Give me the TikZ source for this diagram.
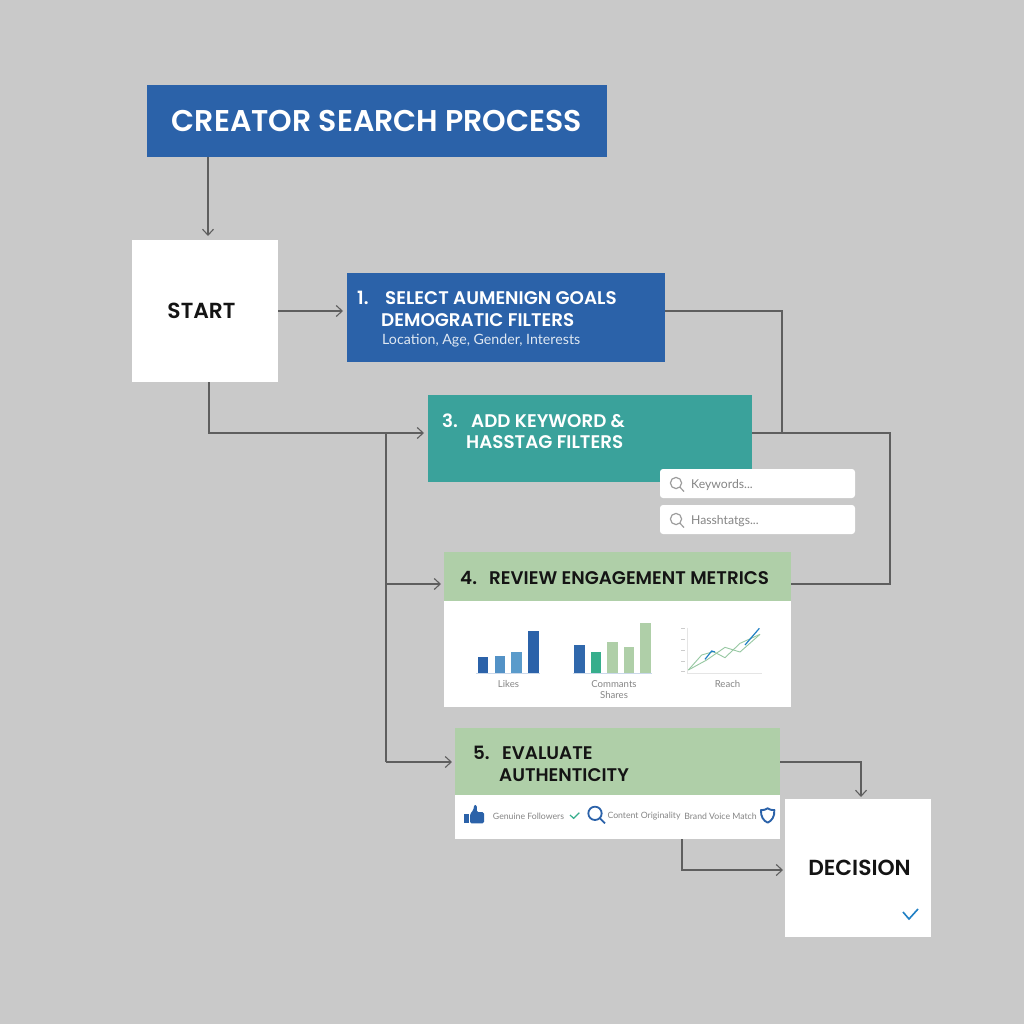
\documentclass[tikz,border=0pt]{standalone}
\usepackage{fontspec}
\setmainfont{Poppins}
\newfontfamily\headfont{Poppins}[UprightFont=* SemiBold]
\newfontfamily\lightfont{Lato}
\usetikzlibrary{arrows.meta}
\definecolor{bgGray}{HTML}{C9C9C9}
\definecolor{stepBlue}{HTML}{2B62A9}
\definecolor{stepTeal}{HTML}{3AA29B}
\definecolor{stepGreen}{HTML}{AFCFA8}
\definecolor{wireGray}{HTML}{5E5E5E}
\definecolor{inkDark}{HTML}{141414}
\definecolor{labelGray}{HTML}{858585}
\definecolor{barMid}{HTML}{5A9BCB}
\definecolor{barJade}{HTML}{36AE8C}
\definecolor{trendBlue}{HTML}{1F7FC4}
\tikzset{
  wire/.style={draw=wireGray, line width=1.1pt},
  flow/.style={wire, -{Straight Barb[length=6pt,width=11pt]}},
  panel/.style={inner sep=0pt, outer sep=0pt, minimum width=#1},
  head/.style={font=\headfont\fontsize{18.3}{22}\selectfont, anchor=west, inner sep=0pt},
  small/.style={font=\lightfont\fontsize{9.6}{11}\selectfont, text=labelGray, inner sep=0pt},
  tiny/.style={font=\lightfont\fontsize{8.7}{10}\selectfont, text=labelGray, inner sep=0pt},
  field/.style={anchor=west, inner sep=0pt, text=labelGray, font=\lightfont\fontsize{12.2}{14}\selectfont},
  search/.style={draw=labelGray!80, line width=1.2pt},
}
\begin{document}
\begin{tikzpicture}[x=1pt,y=-1pt]
\useasboundingbox[fill=bgGray] (0,0) rectangle (1024,1024);
% Title and start
\node[panel=460pt, minimum height=72pt, fill=stepBlue, text=white, font=\headfont\fontsize{30}{34}\selectfont] (title) at (377,121) {CREATOR SEARCH PROCESS};
\node[panel=146pt, minimum height=142pt, fill=white, text=inkDark, font=\headfont\fontsize{21.8}{25}\selectfont] (start) at (205,311) {\hspace*{-7pt}\raisebox{-1pt}{START}};
% Step panels
\node[panel=318pt, minimum height=89pt, fill=stepBlue] (select) at (506,317.5) {};
\node[panel=324pt, minimum height=87pt, fill=stepTeal] (keyword) at (590,438.5) {};
\node[panel=347pt, minimum height=49pt, fill=stepGreen] (review) at (617.5,576.5) {};
\node[panel=347pt, minimum height=106pt, fill=white, anchor=north] (reviewbody) at (review.south) {};
\node[panel=325pt, minimum height=67pt, fill=stepGreen] (evaluate) at (617.5,761.5) {};
\node[panel=325pt, minimum height=44pt, fill=white, anchor=north] (evaluatebody) at (evaluate.south) {};
\node[panel=146pt, minimum height=138pt, fill=white, text=inkDark, font=\headfont\fontsize{21.8}{25}\selectfont] (decision) at (858,868) {\hspace*{3pt}\raisebox{-1pt}{DECISION}};
% Search fields
\node[panel=195pt, minimum height=29pt, fill=white, rounded corners=3pt] (keyfield) at (757.5,483.5) {};
\node[panel=195pt, minimum height=29pt, fill=white, rounded corners=3pt] (hashfield) at (757.5,519.5) {};
% Step texts
\node[head, text=white] (selectnum) at (357,298) {1.};
\node[head, text=white] (selectone) at (385,298) {SELECT AUMENIGN GOALS};
\node[head, text=white] (selecttwo) at (381,320) {DEMOGRATIC FILTERS};
\node[anchor=west, inner sep=0pt, text=white!85!stepBlue, font=\lightfont\fontsize{14.2}{16}\selectfont] (selectsub) at (382,341) {Location, Age, Gender, Interests};
\node[head, text=white] (keywordnum) at (442,421) {3.};
\node[head, text=white] (keywordone) at (471,421) {ADD KEYWORD \&};
\node[head, text=white] (keywordtwo) at (466,442) {HASSTAG FILTERS};
\node[head, text=inkDark] (reviewnum) at (460,578) {4.};
\node[head, text=inkDark] (reviewone) at (489,578) {REVIEW ENGAGEMENT METRICS};
\node[head, text=inkDark] (evaluatenum) at (473,753) {5.};
\node[head, text=inkDark] (evaluateone) at (502,753) {EVALUATE};
\node[head, text=inkDark] (evaluatetwo) at (499,775) {AUTHENTICITY};
% Field texts
\node[field] (keytext) at (691,485) {Keywords...};
\node[field] (hashtext) at (691,521) {Hasshtatgs...};
\draw[search] (676,483) circle (5.6pt) (680,487.3) -- (684,491.5);
\draw[search] (676,519) circle (5.6pt) (680,523.3) -- (684,527.5);
% Chart labels
\node[small] (likes) at (508.5,684) {Likes};
\node[small] (comments) at (614,684) {Commants};
\node[small] (shares) at (614,695) {Shares};
\node[small] (reach) at (727.5,684) {Reach};
% Bar charts
\begin{scope}[shift={(440,590)},scale=1/3]
  \fill[stepBlue] (113,249) rectangle (145,200);
  \fill[barMid!85!stepBlue] (164,249) rectangle (195,198);
  \fill[barMid] (214,249) rectangle (246,185);
  \fill[stepBlue] (265,249) rectangle (297,123);
  \fill[stepBlue!90!barMid] (403,249) rectangle (434,164);
  \fill[barJade] (452,249) rectangle (483,187);
  \fill[stepGreen] (502,249) rectangle (533,157);
  \fill[stepGreen] (552,249) rectangle (583,170);
  \fill[stepGreen] (601,249) rectangle (633,99);
  \draw[stepBlue!25, line width=.5pt] (108,250) -- (300,250) (398,250) -- (636,250);
  % Line chart
  \draw[black!10, line width=.6pt] (742,113) -- (742,250) -- (965,250);
  \foreach \tick in {115,147,180,213,245} \draw[black!20, line width=.5pt] (724,\tick) -- (736,\tick);
  \draw[stepGreen!80!barJade, line width=.9pt] (745,240) -- (785,195) -- (820,185) -- (855,203) -- (900,160) -- (960,133);
  \draw[stepGreen!80!barJade, line width=.9pt] (745,240) -- (800,210) -- (855,172) -- (900,186) -- (960,133);
  \draw[trendBlue, line width=1.2pt] (795,208) -- (815,183) -- (825,186);
  \draw[trendBlue, line width=1.2pt] (915,165) -- (958,115);
\end{scope}
% Authenticity strip
\node[tiny] (genuine) at (528.5,816) {Genuine Followers};
\node[tiny] (original) at (644,816) {Content Originality};
\node[tiny] (voice) at (720.5,816) {Brand Voice Match};
\begin{scope}[shift={(450,790)},scale=1/3]
  \fill[stepBlue] (42,72) rectangle (57,100);
  \fill[stepBlue, rounded corners=1.5pt] (60,72) -- (70,60) -- (73,43) -- (81,46) -- (80,66) -- (102,66) -- (102,100) -- (60,100) -- cycle;
  \draw[barJade, line width=1.2pt] (360,75) -- (371,85) -- (388,68);
  \draw[stepBlue, line width=1.8pt] (435,70) circle (20) (450,85) -- (465,100);
  \draw[stepBlue, line width=1.9pt, line join=round] (953,55) .. controls (943,61) and (938,60) .. (933,60) .. controls (932,80) and (940,92) .. (953,98) .. controls (966,92) and (974,80) .. (973,60) .. controls (968,60) and (963,61) .. (953,55) -- cycle;
\end{scope}
\draw[draw=trendBlue, line width=1.6pt] (903,912) -- (909,919) -- (918,909);
% Connectors
\coordinate (startdrop) at (209,433);
\coordinate (trunktop) at (386,433);
\coordinate (trunkreview) at (386,584);
\coordinate (trunkend) at (386,762);
\coordinate (selectturn) at (782,311);
\coordinate (selectjoin) at (782,433);
\coordinate (keyturn) at (890,433);
\coordinate (reviewturn) at (890,584);
\coordinate (evalturn) at (861,762);
\coordinate (evalbase) at (682,839);
\coordinate (evalelbow) at (682,870);
\draw[flow, shorten >=4pt] (title.south -| 208,157) -- (208,240);
\draw[flow, shorten >=4pt] (start.east |- 0,311) -- (select.west |- 0,311);
\draw[flow, shorten >=4pt] (start.south -| startdrop) -- (startdrop) -- (keyword.west |- startdrop);
\draw[wire] (trunktop) -- (trunkend);
\draw[flow, shorten >=3pt] (trunkreview) -- (review.west |- trunkreview);
\draw[flow, shorten >=3pt] (trunkend) -- (evaluate.west |- trunkend);
\draw[wire] (select.east |- selectturn) -- (selectturn) -- (selectjoin);
\draw[wire] (keyword.east |- keyturn) -- (keyturn) -- (reviewturn) -- (review.east |- reviewturn);
\draw[flow, shorten >=2pt] (evaluate.east |- evalturn) -- (evalturn) -- (decision.north -| evalturn);
\draw[flow, shorten >=2pt] (evalbase) -- (evalelbow) -- (decision.west |- evalelbow);
\end{tikzpicture}
\end{document}
